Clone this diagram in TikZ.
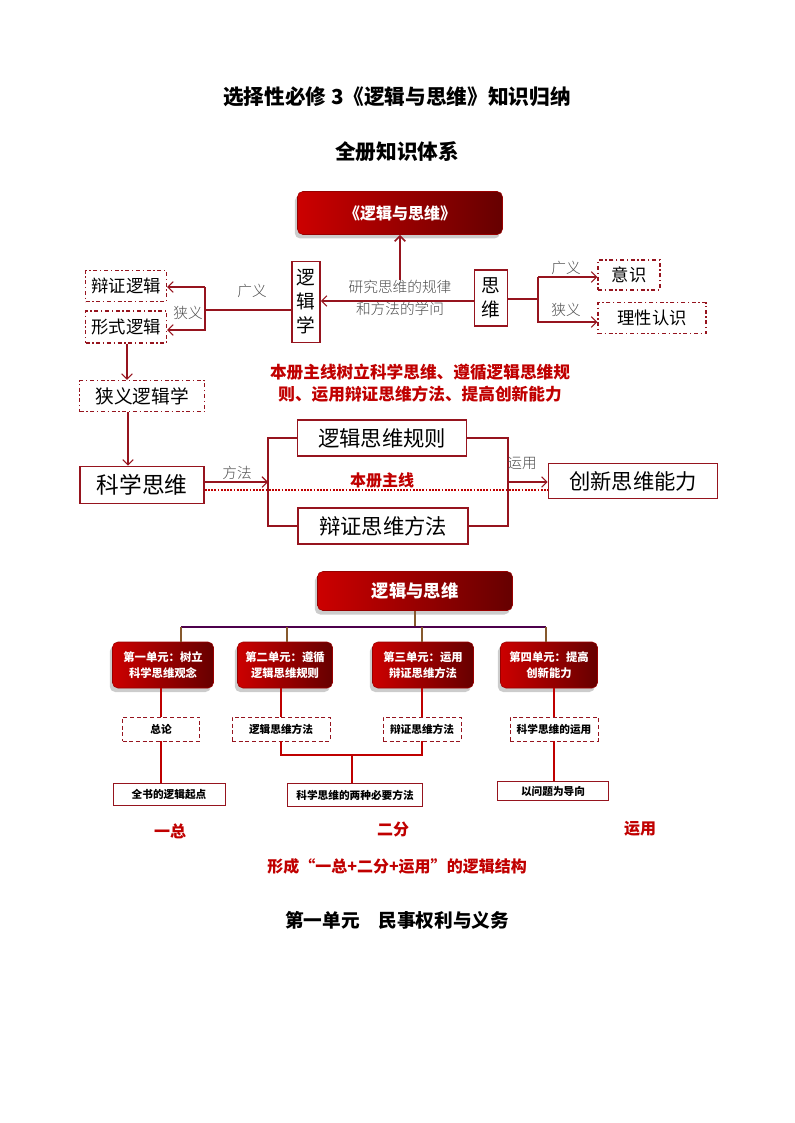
\documentclass[tikz,border=0pt]{standalone}
\usepackage{fontspec}
\setmainfont{Noto Sans CJK SC}
\newfontfamily\kai{Noto Sans CJK SC Light}
\usetikzlibrary{shadows,arrows.meta}
\definecolor{dred}{RGB}{192,0,0}
\definecolor{lred}{RGB}{150,20,30}
\tikzset{
  redbox/.style={rounded corners=4pt, left color=red!80!black, right color=red!40!black,
    draw=red!60!black, drop shadow={shadow xshift=-2pt, shadow yshift=-3pt, opacity=.4},
    text=white, font=\bfseries, inner sep=0pt},
  plainbox/.style={draw=lred, line width=1.2pt, inner sep=0pt},
  dashbox/.style={draw=lred, line width=1pt, dash dot, inner sep=0pt},
  thinbox/.style={draw=lred, line width=.6pt, inner sep=0pt},
  tinydash/.style={draw=lred, line width=.6pt, densely dashed, inner sep=0pt},
  link/.style={draw=lred, line width=.8pt},
  arr/.style={link, -{Straight Barb[length=4pt]}},
  note/.style={font=\kai, text=black!70},
  redtext/.style={text=dred, font=\bfseries},
  bx/.style 2 args={minimum width=#1*.75pt, minimum height=#2*.75pt},
}
\begin{document}
\begin{tikzpicture}[x=.75pt, y=-.75pt]
  \useasboundingbox (0,0) rectangle (794,1123);
  %titles
  \node[font=\bfseries\fontsize{15.5}{18}\selectfont] (title) at (397,97) {选择性必修 3《逻辑与思维》知识归纳};
  \node[font=\bfseries\fontsize{15.5}{18}\selectfont] (subtitle) at (397,152) {全册知识体系};
  %top part
  \node[redbox, bx={205}{43}, font=\bfseries\fontsize{12}{14}\selectfont] (book) at (400,213) {《逻辑与思维》};
  \node[plainbox, bx={28}{81}, align=center, font=\fontsize{14}{18}\selectfont] (logic) at (306,302) {逻\\辑\\学};
  \node[plainbox, bx={33}{56}, align=center, font=\fontsize{14}{18}\selectfont] (think) at (491,298) {思\\维};
  \node[dashbox, bx={81}{31}, font=\fontsize{13}{15}\selectfont] (dialog) at (126,286) {辩证逻辑};
  \node[dashbox, bx={81}{32}, font=\fontsize{13}{15}\selectfont] (formlog) at (126,327) {形式逻辑};
  \node[dashbox, bx={62}{30}, font=\fontsize{13}{15}\selectfont] (aware) at (629,275) {意识};
  \node[dashbox, bx={108}{31}, font=\fontsize{13}{15}\selectfont] (ration) at (652,318) {理性认识};
  \node[note, align=center, font=\kai\fontsize{11}{16}\selectfont] (study) at (400,298) {研究思维的规律\\和方法的学问};
  \coordinate (up) at (400,280);
  \draw[arr, line width=1.2pt] (up) -- (book.south);
  \draw[arr] (think.west |- 0,301) -- (logic.east |- 0,301);
  % left bracket
  \coordinate (lb) at (205,310);
  \draw[link] (logic.west |- lb) -- (lb);
  \draw[arr] (205,287) -- (205,330) -- (formlog.east |- 0,330);
  \draw[arr] (205,287) -- (dialog.east |- 0,287);
  \node[note, font=\kai\fontsize{11}{12}\selectfont] (wide1) at (252,291) {广义};
  \node[note, font=\kai\fontsize{11}{12}\selectfont] (narrow1) at (188,313) {狭义};
  % right bracket
  \coordinate (rb) at (538,299);
  \draw[link] (think.east |- rb) -- (rb);
  \draw[arr] (538,277) -- (538,322) -- (ration.west |- 0,322);
  \draw[arr] (538,277) -- (aware.west |- 0,277);
  \node[note, font=\kai\fontsize{11}{12}\selectfont] (wide2) at (566,268) {广义};
  \node[note, font=\kai\fontsize{11}{12}\selectfont] (narrow2) at (566,310) {狭义};
  \node[redtext, align=center, font=\bfseries\fontsize{12.5}{16.5}\selectfont] (mainline) at (420,383)
    {本册主线树立科学思维、遵循逻辑思维规\\则、运用辩证思维方法、提高创新能力};
  % middle part
  \node[dashbox, bx={125}{31}, font=\fontsize{14}{16}\selectfont] (narrowlog) at (142,396) {狭义逻辑学};
  \node[plainbox, bx={124}{37}, font=\fontsize{17}{19}\selectfont] (science) at (142,485) {科学思维};
  \node[plainbox, bx={169}{36}, font=\fontsize{16}{18}\selectfont] (rule) at (382,438) {逻辑思维规则};
  \node[plainbox, bx={170}{36}, font=\fontsize{16}{18}\selectfont] (method) at (383,526) {辩证思维方法};
  \node[plainbox, bx={169}{35}, font=\fontsize{16}{18}\selectfont] (create) at (633,481) {创新思维能力};
  \draw[arr] (formlog.south -| 127,0) -- (narrowlog.north -| 127,0);
  \draw[arr] (narrowlog.south -| 128,0) -- (science.north -| 128,0);
  \draw[link] (rule.west) -- (268,438) -- (268,526) -- (method.west);
  \draw[link] (rule.east) -- (508,438) -- (508,526) -- (method.east);
  \draw[arr] (science.east |- 0,482) -- (268,482);
  \draw[arr] (508,482) -- (create.west |- 0,482);
  \draw[dred, line width=1.4pt, densely dotted] (science.east |- 0,490) -- (create.west |- 0,490);
  \node[note, font=\kai\fontsize{11}{12}\selectfont] (way) at (237,473) {方法};
  \node[note, font=\kai\fontsize{11}{12}\selectfont] (apply) at (522,463) {运用};
  \node[redtext, font=\bfseries\fontsize{12}{14}\selectfont] (mainline2) at (382,480) {本册主线};
  % bottom part
  \node[redbox, bx={195}{39}, font=\bfseries\fontsize{13}{15}\selectfont] (root) at (415,591) {逻辑与思维};
  \foreach \n/\x/\w/\t in {u1/163/101/{第一单元：树立\\科学思维观念}, u2/285/95/{第二单元：遵循\\逻辑思维规则},
      u3/423/101/{第三单元：运用\\辩证思维方法}, u4/549/97/{第四单元：提高\\创新能力}}
    \node[redbox, bx={\w}{46}, align=center, font=\bfseries\fontsize{8.5}{12}\selectfont] (\n) at (\x,665) {\t};
  \draw[brown!70!black, line width=.8pt] (root.south) -- (415,627);
  \draw[violet!60!black, line width=1.5pt] (181,627) -- (546,627);
  \foreach \x in {181,287,422,546}
    \draw[brown!70!black, line width=.8pt] (\x,627) -- (\x,642);
  \node[tinydash, bx={77}{24}, font=\bfseries\fontsize{8}{10}\selectfont] (gen) at (161,729) {总论};
  \node[tinydash, bx={98}{24}, font=\bfseries\fontsize{8}{10}\selectfont] (logm) at (281,729) {逻辑思维方法};
  \node[tinydash, bx={78}{24}, font=\bfseries\fontsize{8}{10}\selectfont] (dialm) at (422,729) {辩证思维方法};
  \node[tinydash, bx={88}{24}, font=\bfseries\fontsize{8}{10}\selectfont] (useof) at (554,729) {科学思维的运用};
  \node[thinbox, bx={112}{22}, font=\bfseries\fontsize{8}{10}\selectfont] (start) at (169,794) {全书的逻辑起点};
  \node[thinbox, bx={135}{23}, font=\bfseries\fontsize{8}{10}\selectfont] (two) at (355,795) {科学思维的两种必要方法};
  \node[thinbox, bx={111}{19}, font=\bfseries\fontsize{8}{10}\selectfont] (guide) at (553,791) {以问题为导向};
  \tikzset{redline/.style={draw=red!75!black, line width=1.3pt}}
  \draw[redline] (u1.south -| gen) -- (gen);
  \draw[redline] (u2.south -| logm) -- (logm);
  \draw[redline] (u3.south -| dialm) -- (dialm);
  \draw[redline] (u4.south -| useof) -- (useof);
  \draw[redline] (gen) -- (gen |- start.north);
  \draw[redline] (logm) -- (281,755) -- (422,755) -- (dialm);
  \draw[redline] (352,755) -- (two.north -| 352,0);
  \draw[redline] (useof) -- (useof |- guide.north);
  \node[redtext, font=\bfseries\fontsize{12}{14}\selectfont] (one) at (170,831) {一总};
  \node[redtext, font=\bfseries\fontsize{12}{14}\selectfont] (split) at (393,829) {二分};
  \node[redtext, font=\bfseries\fontsize{12}{14}\selectfont] (use) at (640,829) {运用};
  \node[redtext, font=\bfseries\fontsize{12}{14}\selectfont] (form) at (397,866) {形成“一总+二分+运用”的逻辑结构};
  \node[font=\bfseries\fontsize{14}{16}\selectfont] (unit1) at (397,920) {第一单元\quad 民事权利与义务};
\end{tikzpicture}
\end{document}
